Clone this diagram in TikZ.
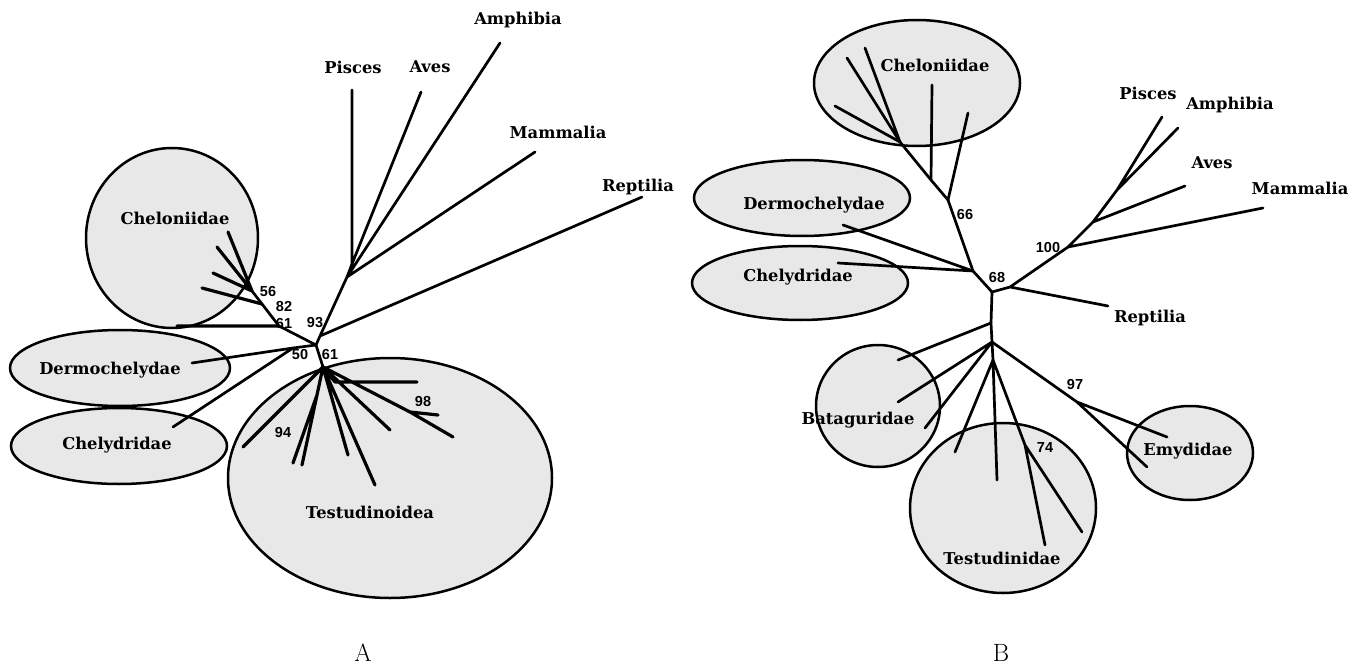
\documentclass[tikz,border=0pt]{standalone}
\usepackage{fontspec}
\newfontfamily\numfont{Liberation Sans}
\newfontfamily\lblfont{DejaVu Serif}
\tikzset{
  grp/.style={draw=black, line width=2.5pt, fill=black!9},
  br/.style={line width=2.7pt, line cap=round},
  thk/.style={line width=3.2pt, line cap=round},
  lbl/.style={font=\lblfont\fontsize{16.3}{18}\selectfont\bfseries, inner sep=0pt},
  num/.style={font=\numfont\fontsize{14.5}{15}\selectfont\bfseries, inner sep=0pt},
  pan/.style={font=\fontsize{25}{27}\selectfont, inner sep=0pt}
}
\begin{document}
\begin{tikzpicture}[x=1pt,y=-1pt]
\useasboundingbox (0,0) rectangle (1357,666);
% ---------------- Panel A groups ----------------
\draw[grp] (172,238) ellipse [x radius=86, y radius=90];
\draw[grp] (120,368) ellipse [x radius=110, y radius=38];
\draw[grp] (119,446) ellipse [x radius=108, y radius=38];
\draw[grp] (390,478) ellipse [x radius=162, y radius=120];
% ---------------- Panel B groups ----------------
\draw[grp] (917,83) ellipse [x radius=103, y radius=63];
\draw[grp] (802,198) ellipse [x radius=108, y radius=38];
\draw[grp] (800,283) ellipse [x radius=108, y radius=37];
\draw[grp] (878,406) ellipse [x radius=62, y radius=61];
\draw[grp] (1003,508) ellipse [x radius=93, y radius=85];
\draw[grp] (1190,453) ellipse [x radius=63, y radius=47];

% ---------------- Panel A tree ----------------
\coordinate (aC) at (316,345);
\coordinate (a50) at (293,348);
\coordinate (a93) at (320,336);
\coordinate (aM) at (347,277);
\coordinate (aP) at (352,264);
\coordinate (aT) at (323,367);
\coordinate (a94) at (317,395);
\coordinate (a98) at (410,412);
\coordinate (aH) at (335,382);
\coordinate (ac61) at (279,326);
\coordinate (ac82) at (262,304);
\coordinate (ac56) at (252,291);
% leaves
\coordinate (lPiA) at (352,90);
\coordinate (lAvA) at (421,92);
\coordinate (lAmA) at (500,43);
\coordinate (lMaA) at (535,152);
\coordinate (lReA) at (642,197);
\coordinate (lDeA) at (192,363);
\coordinate (lChA) at (173,427);
\coordinate (lc1) at (228,232);
\coordinate (lc2) at (217,247);
\coordinate (lc3) at (213,273);
\coordinate (lc4) at (202,288);
\coordinate (lc5) at (177,326);
\coordinate (lt1) at (243,447);
\coordinate (lt2) at (293,463);
\coordinate (lt3) at (302,465);
\coordinate (lt4) at (348,455);
\coordinate (lt5) at (375,485);
\coordinate (lt6) at (390,430);
\coordinate (lt7) at (453,437);
\coordinate (lt8) at (438,415);
\coordinate (lt9) at (417,382);

\draw[br] (aC) -- (a50) (a50) -- (lDeA) (a50) -- (lChA);
\draw[br] (aC) -- (a93) (a93) -- (aM) (a93) -- (lReA);
\draw[br] (aM) -- (aP) (aM) -- (lMaA) (aM) -- (lAmA);
\draw[br] (aP) -- (lPiA) (aP) -- (lAvA);
\draw[br] (aC) -- (ac61) (ac61) -- (ac82) (ac82) -- (ac56);
\draw[thk] (ac61) -- (lc5) (ac82) -- (lc4) (ac56) -- (lc3) (ac56) -- (lc2) (ac56) -- (lc1);
\draw[br] (aC) -- (aT);
\draw[thk] (aT) -- (lt1) (aT) -- (a94) (a94) -- (lt2) (a94) -- (lt3)
  (aT) -- (lt4) (aT) -- (lt5) (aT) -- (lt6) (aT) -- (a98) (a98) -- (lt7) (a98) -- (lt8)
  (aT) -- (aH) (aH) -- (lt9);

% ---------------- Panel B tree ----------------
\coordinate (bTop) at (900,142);
\coordinate (bV) at (931,180);
\coordinate (b66) at (948,200);
\coordinate (b68) at (973,271);
\coordinate (bR) at (992,292);
\coordinate (bRe) at (1010,287);
\coordinate (b100) at (1068,247);
\coordinate (bAv) at (1093,222);
\coordinate (bPA) at (1117,190);
\coordinate (b1) at (991,323);
\coordinate (b2) at (992,342);
\coordinate (b3) at (993,360);
\coordinate (b97) at (1077,402);
\coordinate (b74) at (1025,445);
% leaves
\coordinate (mc1) at (865,48);
\coordinate (mc2) at (847,58);
\coordinate (mc3) at (835,106);
\coordinate (mc4) at (932,85);
\coordinate (mc5) at (968,113);
\coordinate (mDe) at (843,225);
\coordinate (mCh) at (838,263);
\coordinate (mRe) at (1108,306);
\coordinate (mMa) at (1263,208);
\coordinate (mAv) at (1185,186);
\coordinate (mPi) at (1162,117);
\coordinate (mAm) at (1178,128);
\coordinate (mb1) at (898,360);
\coordinate (mb2) at (898,402);
\coordinate (mb3) at (925,428);
\coordinate (me1) at (1167,437);
\coordinate (me2) at (1147,467);
\coordinate (mt1) at (955,452);
\coordinate (mt2) at (997,480);
\coordinate (mt3) at (1045,545);
\coordinate (mt4) at (1082,532);

\draw[br] (bTop) -- (bV) (bV) -- (b66) (b66) -- (b68) (b68) -- (bR);
\draw[br] (bTop) -- (mc1) (bTop) -- (mc2) (bTop) -- (mc3) (bV) -- (mc4) (b66) -- (mc5);
\draw[br] (b68) -- (mDe) (b68) -- (mCh);
\draw[br] (bR) -- (bRe) (bRe) -- (mRe) (bRe) -- (b100);
\draw[br] (b100) -- (mMa) (b100) -- (bAv) (bAv) -- (mAv) (bAv) -- (bPA) (bPA) -- (mPi) (bPA) -- (mAm);
\draw[br] (bR) -- (b1) (b1) -- (b2) (b2) -- (b3);
\draw[br] (b1) -- (mb1) (b2) -- (mb2) (b2) -- (mb3) (b2) -- (b97) (b97) -- (me1) (b97) -- (me2);
\draw[br] (b3) -- (mt1) (b3) -- (mt2) (b3) -- (b74) (b74) -- (mt3) (b74) -- (mt4);

% ---------------- Labels A ----------------
\node[lbl] (tAm) at (518,20) {Amphibia};
\node[lbl] (tPi) at (353,67) {Pisces};
\node[lbl] (tAv) at (430,67) {Aves};
\node[lbl] (tMa) at (558,132) {Mammalia};
\node[lbl] (tRe) at (638,187) {Reptilia};
\node[lbl] (tCl) at (175,218) {Cheloniidae};
\node[lbl] (tDe) at (110,370) {Dermochelydae};
\node[lbl] (tCy) at (117,445) {Chelydridae};
\node[lbl] (tTe) at (370,512) {Testudinoidea};
\node[num] (n56) at (268,292) {56};
\node[num] (n82) at (284,307) {82};
\node[num] (n61a) at (284,324) {61};
\node[num] (n93) at (315,323) {93};
\node[num] (n50) at (300,355) {50};
\node[num] (n61b) at (330,355) {61};
\node[num] (n94) at (283,433) {94};
\node[num] (n98) at (423,402) {98};
% ---------------- Labels B ----------------
\node[lbl] (uPi) at (1148,93) {Pisces};
\node[lbl] (uAm) at (1230,105) {Amphibia};
\node[lbl] (uAv) at (1212,163) {Aves};
\node[lbl] (uMa) at (1300,188) {Mammalia};
\node[lbl] (uRe) at (1150,318) {Reptilia};
\node[lbl] (uCl) at (935,65) {Cheloniidae};
\node[lbl] (uDe) at (814,205) {Dermochelydae};
\node[lbl] (uCy) at (798,277) {Chelydridae};
\node[lbl] (uBa) at (858,420) {Bataguridae};
\node[lbl] (uTe) at (1002,558) {Testudinidae};
\node[lbl] (uEm) at (1188,451) {Emydidae};
\node[num] (m66) at (965,215) {66};
\node[num] (m68) at (997,278) {68};
\node[num] (m100) at (1048,248) {100};
\node[num] (m97) at (1075,385) {97};
\node[num] (m74) at (1045,448) {74};
% panel letters
\node[pan] (pA) at (363,653) {A};
\node[pan] (pB) at (1001,653) {B};
\end{tikzpicture}
\end{document}
